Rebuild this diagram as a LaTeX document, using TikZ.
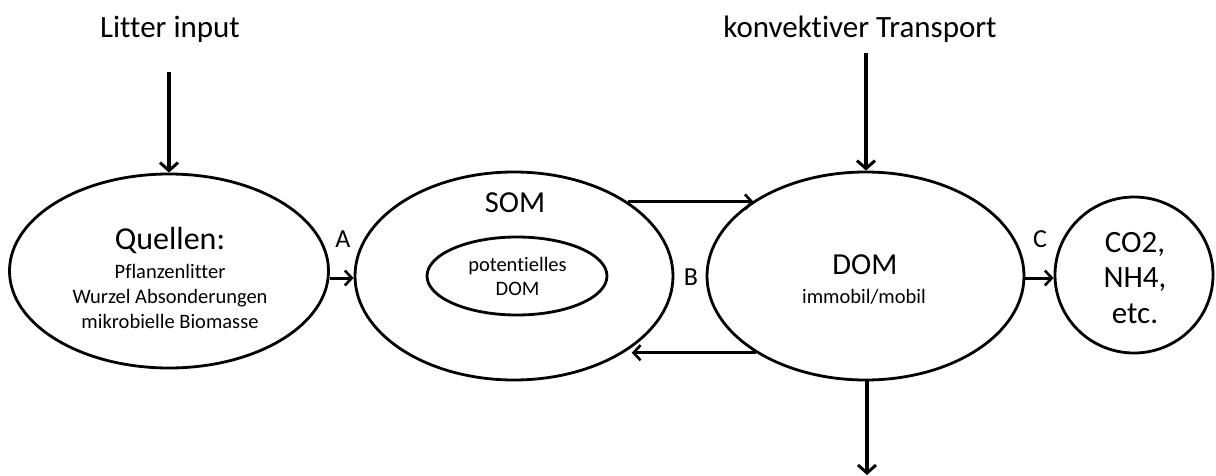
\documentclass[tikz,border=0pt]{standalone}
\usepackage{fontspec}
\setmainfont{Carlito}[Ligatures=NoCommon]
\usetikzlibrary{shapes.geometric,arrows.meta}
\tikzset{
  ell/.style={draw=black,line width=2.8pt,ellipse,inner sep=0pt},
  lbl/.style={anchor=base,inner sep=0pt,font=#1},
  arr/.style={line width=3pt,-{Straight Barb[length=7pt,width=15pt,line width=2.6pt]}},
  varr/.style={line width=3.8pt,-{Straight Barb[length=8pt,width=18pt,line width=3pt]}}
}
\begin{document}
\begin{tikzpicture}[x=1pt,y=-1pt]
\useasboundingbox[fill=white] (0,0) rectangle (1216,476);
% ellipses
\node[ell,minimum width=319pt,minimum height=194pt] (Q) at (169,271) {};
\node[ell,minimum width=318pt,minimum height=208pt] (SOM) at (514,276) {};
\node[ell,minimum width=180pt,minimum height=78pt] (PD) at (517,276) {};
\node[ell,minimum width=317pt,minimum height=208pt] (DOM) at (865.5,276) {};
\node[ell,minimum width=158pt,minimum height=156pt] (CO) at (1134,275) {};
% texts
\node[lbl=\fontsize{31}{33}\selectfont] (tl) at (170,38) {Litter input};
\node[lbl=\fontsize{31}{33}\selectfont] (tk) at (860,38) {konvektiver Transport};
\node[lbl=\fontsize{32}{34}\selectfont] (q1) at (170,249) {Quellen:};
\node[lbl=\fontsize{20.5}{22}\selectfont] (q2) at (170,278) {Pflanzenlitter};
\node[lbl=\fontsize{20.5}{22}\selectfont] (q3) at (170,303) {Wurzel Absonderungen};
\node[lbl=\fontsize{20.5}{22}\selectfont] (q4) at (170,328) {mikrobielle Biomasse};
\node[lbl=\fontsize{30.5}{32}\selectfont] (s1) at (515,212) {SOM};
\node[lbl=\fontsize{20.5}{22}\selectfont] (p1) at (517.5,271) {potentielles};
\node[lbl=\fontsize{20.5}{22}\selectfont] (p2) at (517.5,295) {DOM};
\node[lbl=\fontsize{30.5}{32}\selectfont] (d1) at (865,274) {DOM};
\node[lbl=\fontsize{20.5}{22}\selectfont] (d2) at (864,303) {immobil/mobil};
\node[lbl=\fontsize{31}{33}\selectfont] (c1) at (1135,252) {CO2,};
\node[lbl=\fontsize{31}{33}\selectfont] (c2) at (1135,287) {NH4,};
\node[lbl=\fontsize{31}{33}\selectfont] (c3) at (1135,323) {etc.};
\node[lbl=\fontsize{26}{28}\selectfont] (la) at (343,247) {A};
\node[lbl=\fontsize{26}{28}\selectfont] (lb) at (691,285) {B};
\node[lbl=\fontsize{26}{28}\selectfont] (lc) at (1040,247) {C};
% connectors
\coordinate (litstart) at (169,72);
\coordinate (konstart) at (866,53);
\coordinate (outend) at (867,475);
\coordinate (ya) at (0,278);
\draw[varr] (litstart) -- (litstart |- Q.north);
\draw[varr] (konstart) -- (konstart |- DOM.north);
\draw[varr] (DOM.south -| outend) -- (outend);
\draw[arr] (Q.east |- ya) -- (SOM.west |- ya);
\draw[arr] (DOM.east |- ya) -- (CO.west |- ya);
\draw[arr] (SOM.33.5) -- (SOM.33.5 -| DOM.146.4);
\draw[arr] (DOM.215) -- ([xshift=8pt]SOM.-35 |- DOM.215);
\end{tikzpicture}
\end{document}
